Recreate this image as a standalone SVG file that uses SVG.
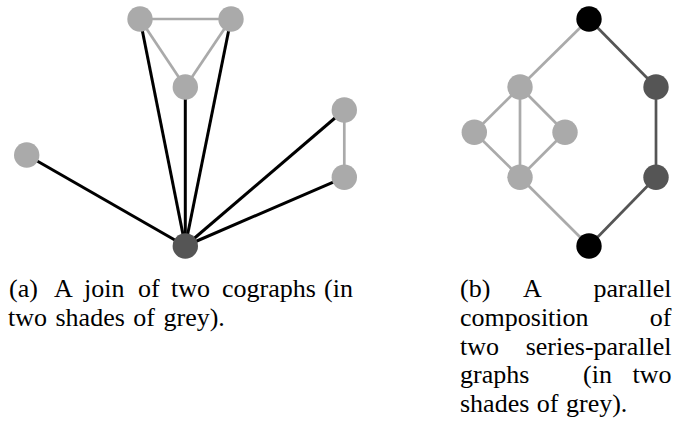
<svg xmlns="http://www.w3.org/2000/svg" width="673" height="421" viewBox="0 0 673 421">
<style>
.bk{stroke:#000;stroke-width:3;fill:none}
.gr{stroke:#aaaaaa;stroke-width:2.7;fill:none}
.dk{stroke:#555555;stroke-width:2.7;fill:none}
.nl{fill:#aaaaaa}
.nd{fill:#555555}
.nb{fill:#000}
text{font-family:"Liberation Serif","Times New Roman",serif;font-size:26px;fill:#000}
.e{text-anchor:end}
</style>
<rect width="673" height="421" fill="#fff"/>
<g id="connectors">
<line class="gr" x1="140" y1="19" x2="231" y2="19"/>
<line class="gr" x1="140" y1="19" x2="185.3" y2="87"/>
<line class="gr" x1="231" y1="19" x2="185.3" y2="87"/>
<line class="gr" x1="344.3" y1="110" x2="344.3" y2="177.3"/>
<line class="bk" x1="185.3" y1="246" x2="26.7" y2="155"/>
<line class="bk" x1="185.3" y1="246" x2="140" y2="19"/>
<line class="bk" x1="185.3" y1="246" x2="185.3" y2="87"/>
<line class="bk" x1="185.3" y1="246" x2="231" y2="19"/>
<line class="bk" x1="185.3" y1="246" x2="344.3" y2="110"/>
<line class="bk" x1="185.3" y1="246" x2="344.3" y2="177.3"/>
<line class="dk" x1="589" y1="19" x2="656" y2="87"/>
<line class="dk" x1="656" y1="87" x2="656" y2="177.3"/>
<line class="dk" x1="656" y1="177.3" x2="589" y2="246"/>
<line class="gr" x1="589" y1="19" x2="520" y2="87"/>
<line class="gr" x1="520" y1="87" x2="474.3" y2="132.3"/>
<line class="gr" x1="520" y1="87" x2="565" y2="132.3"/>
<line class="gr" x1="520" y1="87" x2="520" y2="177.3"/>
<line class="gr" x1="474.3" y1="132.3" x2="520" y2="177.3"/>
<line class="gr" x1="565" y1="132.3" x2="520" y2="177.3"/>
<line class="gr" x1="520" y1="177.3" x2="589" y2="246"/>
</g>
<g id="a-top-left"><circle class="nl" cx="140" cy="19" r="12.7"/></g>
<g id="a-top-right"><circle class="nl" cx="231" cy="19" r="12.7"/></g>
<g id="a-middle"><circle class="nl" cx="185.3" cy="87" r="12.7"/></g>
<g id="a-left"><circle class="nl" cx="26.7" cy="155" r="12.7"/></g>
<g id="a-right-top"><circle class="nl" cx="344.3" cy="110" r="12.7"/></g>
<g id="a-right-bottom"><circle class="nl" cx="344.3" cy="177.3" r="12.7"/></g>
<g id="a-hub"><circle class="nd" cx="185.3" cy="246" r="12.7"/></g>
<g id="b-top"><circle class="nb" cx="589" cy="19" r="12.7"/></g>
<g id="b-right-top"><circle class="nd" cx="656" cy="87" r="12.7"/></g>
<g id="b-right-bottom"><circle class="nd" cx="656" cy="177.3" r="12.7"/></g>
<g id="b-bottom"><circle class="nb" cx="589" cy="246" r="12.7"/></g>
<g id="b-grey-top"><circle class="nl" cx="520" cy="87" r="12.7"/></g>
<g id="b-grey-left"><circle class="nl" cx="474.3" cy="132.3" r="12.7"/></g>
<g id="b-grey-right"><circle class="nl" cx="565" cy="132.3" r="12.7"/></g>
<g id="b-grey-bottom"><circle class="nl" cx="520" cy="177.3" r="12.7"/></g>
<g id="caption-a">
<text x="9" y="297">(a)</text>
<text x="54" y="297">A</text>
<text x="84" y="297">join</text>
<text x="138" y="297">of</text>
<text x="171" y="297">two</text>
<text x="222" y="297">cographs</text>
<text x="324" y="297">(in</text>
<text x="8" y="325.7" word-spacing="2">two shades of grey).</text>
</g>
<g id="caption-b">
<text x="460" y="297">(b)</text>
<text x="523" y="297">A</text>
<text class="e" x="671.5" y="297">parallel</text>
<text x="460" y="325.7">composition</text>
<text class="e" x="671.5" y="325.7">of</text>
<text x="460" y="354.5">two</text>
<text class="e" x="671.5" y="354.5">series-parallel</text>
<text x="460" y="383.2">graphs</text>
<text x="583" y="383.2">(in</text>
<text class="e" x="671.5" y="383.2">two</text>
<text x="460" y="412" word-spacing="1">shades of grey).</text>
</g>
</svg>
